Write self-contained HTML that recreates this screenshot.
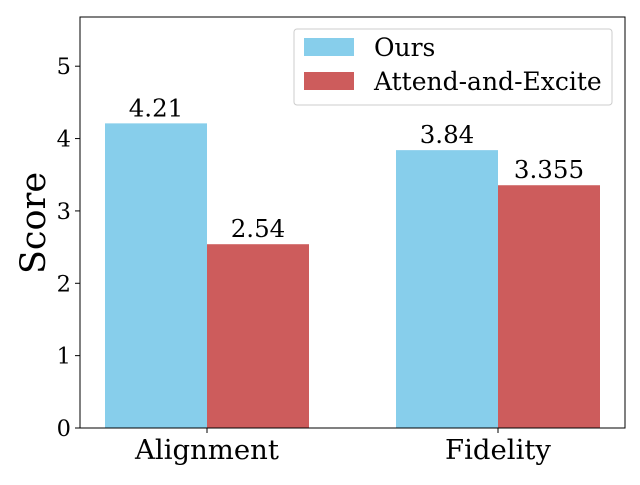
<!DOCTYPE html>
<html><head><meta charset="utf-8"><style>
body{margin:0;background:#fff;}
svg text{font-family:"DejaVu Serif","Liberation Serif",serif;fill:#000;}
</style></head><body>
<svg id="chart" width="640" height="480" viewBox="0 0 640 480">
<g id="bars"></g><g id="axes"></g>
</svg>
<script>
const categories=["Alignment","Fidelity"];
const seriesNames=["Ours","Attend-and-Excite"];
const oursValues=[4.21,3.84];
const attendValues=[2.54,3.355];
const valueLabels=[["4.21","3.84"],["2.54","3.355"]];
const yTicks=[0,1,2,3,4,5];
const colors=["#87CEEB","#CD5C5C"];
const L=80,R=625,T=17,B=428,yMax=5.68;
const y=v=>B-(v/yMax)*(B-T);
const catX=i=>207+i*291;
const barW=102;
const NS="http://www.w3.org/2000/svg";
function mk(tag,attrs,parent,txt){const e=document.createElementNS(NS,tag);for(const k in attrs)e.setAttribute(k,attrs[k]);if(txt!==undefined)e.textContent=txt;parent.appendChild(e);return e;}
const bars=document.getElementById('bars'),axes=document.getElementById('axes');
[oursValues,attendValues].forEach((vals,s)=>{
 vals.forEach((v,i)=>{
  const x=catX(i)+(s===0?-barW:0);
  const r=mk('rect',{x:x,y:y(v),width:barW,height:B-y(v),fill:colors[s]},bars);
  
  
  const t=mk('text',{x:x+barW/2,y:y(v)-7,'text-anchor':'middle','font-size':'24.5'},bars,valueLabels[s][i]);
  
  
 });
});
const frame=mk('rect',{x:L,y:T,width:R-L,height:B-T,fill:'none',stroke:'#000','stroke-width':1},axes);


yTicks.forEach(v=>{
 mk('line',{x1:L-5,x2:L,y1:y(v),y2:y(v),stroke:'#000'},axes);
 const t=mk('text',{x:L-9,y:y(v)+8,'text-anchor':'end','font-size':'22.5'},axes,String(v));
 
 
});
categories.forEach((c,i)=>{
 mk('line',{x1:catX(i),x2:catX(i),y1:B,y2:B+5,stroke:'#000'},axes);
 const t=mk('text',{x:catX(i),y:B+31,'text-anchor':'middle','font-size':'27.5'},axes,c);
 
 
});
const yt=mk('text',{x:0,y:0,transform:'translate(45,223) rotate(-90)','text-anchor':'middle','font-size':'35'},axes,'Score');


const lg=mk('g',{},axes);


mk('rect',{x:294,y:29,width:318,height:76,rx:3,fill:'#fff',stroke:'#ccc'},lg);
seriesNames.forEach((n,s)=>{
 mk('rect',{x:304,y:38+s*34,width:50,height:18,fill:colors[s]},lg);
 const t=mk('text',{x:374,y:56+s*34,'font-size':'25'},lg,n);
 
 
});
</script>
</body></html>
